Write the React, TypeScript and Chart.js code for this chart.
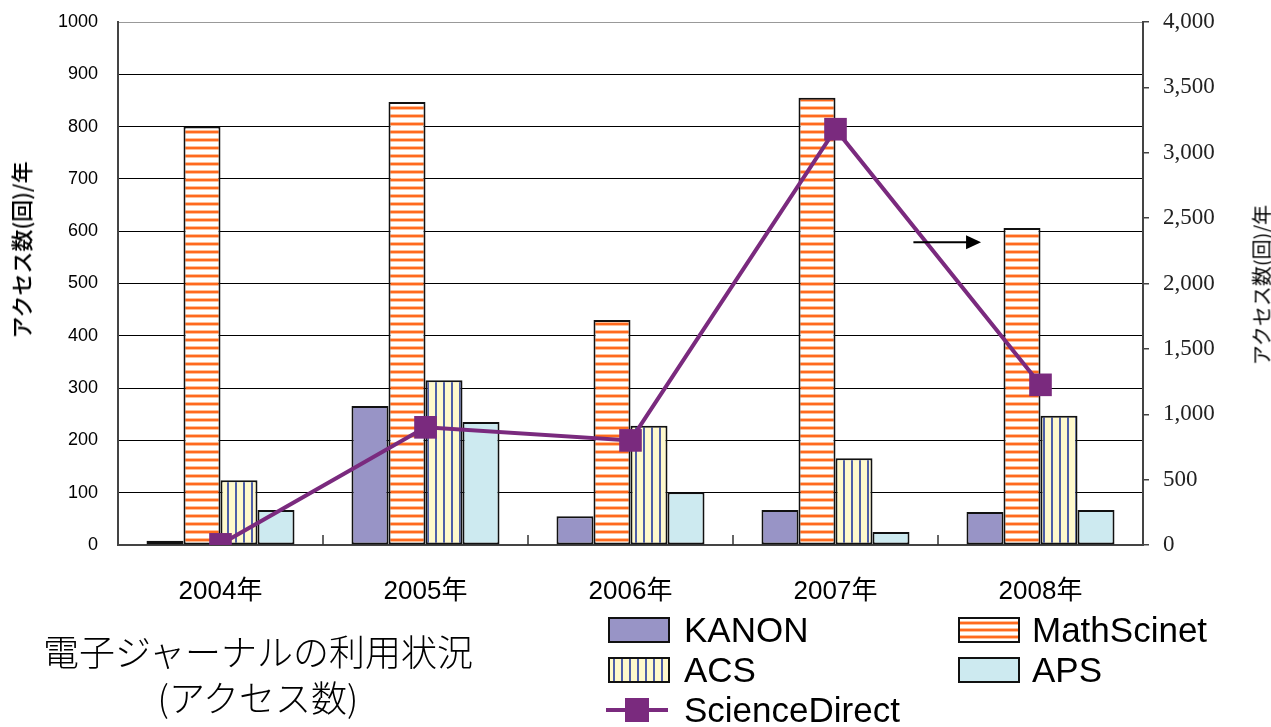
import React, { useEffect, useRef } from 'react';
import { Chart, registerables } from 'chart.js';

Chart.register(...registerables);

// ---- data ----
const YEARS = ['2004年', '2005年', '2006年', '2007年', '2008年'];
const KANON = [8, 266, 55, 67, 63];
const MATHSCINET = [800, 847, 430, 855, 606];
const ACS = [124, 315, 228, 166, 247];
const APS = [67, 235, 101, 25, 67];
const SCIENCE_DIRECT = [5, 900, 800, 3180, 1225];

const LEFT_MAX = 1000;
const LEFT_STEP = 100;
const RIGHT_MAX = 4000;
const RIGHT_STEP = 500;

const SERIES_NAMES = ['KANON', 'MathScinet', 'ACS', 'APS', 'ScienceDirect'];
const AXIS_TITLE = 'アクセス数(回)/年';
const TITLE_LINES = ['電子ジャーナルの利用状況', '(アクセス数)'];

// arrow annotation in data units (category index, left-axis value)
const ARROW = { fromX: 3.38, toX: 3.71, y: 579 };

// ---- styles ----
const W = 1271;
const H = 727;
const KANON_COLOR = '#9894C6';
const APS_COLOR = '#CDEAF0';
const ACS_BG = '#FFF9CC';
const ACS_STRIPE = '#4F5FA8';
const MATH_STRIPE = '#FF6A1F';
const MATH_HALO = '#FFC09A';
const SD_COLOR = '#7A2A7E';
const BAR_BORDER = '#111';

function hPattern(ctx: CanvasRenderingContext2D) {
  const c = document.createElement('canvas');
  c.width = 8;
  c.height = 8;
  const g = c.getContext('2d')!;
  g.fillStyle = '#fff';
  g.fillRect(0, 0, 8, 8);
  g.fillStyle = MATH_HALO;
  g.fillRect(0, 2, 8, 1);
  g.fillRect(0, 5, 8, 1);
  g.fillStyle = MATH_STRIPE;
  g.fillRect(0, 3, 8, 2);
  return ctx.createPattern(c, 'repeat')!;
}

function vPattern(ctx: CanvasRenderingContext2D) {
  const c = document.createElement('canvas');
  c.width = 8;
  c.height = 8;
  const g = c.getContext('2d')!;
  g.fillStyle = ACS_BG;
  g.fillRect(0, 0, 8, 8);
  g.fillStyle = ACS_STRIPE;
  g.fillRect(3, 0, 2, 8);
  return ctx.createPattern(c, 'repeat')!;
}

const extrasPlugin = {
  id: 'extras',
  afterDatasetsDraw(chart: any) {
    const { ctx, scales } = chart;
    const x = scales.x;
    const y = scales.y;
    const bottom = chart.chartArea.bottom;
    ctx.save();
    // inward ticks at category boundaries
    ctx.strokeStyle = '#333';
    ctx.lineWidth = 1.5;
    for (let i = 1; i < YEARS.length; i++) {
      const px = (x.getPixelForValue(i - 1) + x.getPixelForValue(i)) / 2;
      ctx.beginPath();
      ctx.moveTo(px, bottom);
      ctx.lineTo(px, bottom - 10);
      ctx.stroke();
    }
    // arrow
    const x0 = x.getPixelForValue(ARROW.fromX);
    const x1 = x.getPixelForValue(ARROW.toX);
    const py = y.getPixelForValue(ARROW.y);
    ctx.strokeStyle = '#000';
    ctx.fillStyle = '#000';
    ctx.lineWidth = 2;
    ctx.beginPath();
    ctx.moveTo(x0, py);
    ctx.lineTo(x1 - 12, py);
    ctx.stroke();
    ctx.beginPath();
    ctx.moveTo(x1, py);
    ctx.lineTo(x1 - 15, py - 7);
    ctx.lineTo(x1 - 15, py + 7);
    ctx.closePath();
    ctx.fill();
    ctx.restore();
  },
};

const swatchBase: React.CSSProperties = {
  position: 'absolute',
  width: 58,
  height: 22,
  border: '2px solid #111',
};

const legendText: React.CSSProperties = {
  position: 'absolute',
  fontFamily: "'Liberation Sans', Arial, sans-serif",
  fontSize: 35,
  lineHeight: '36px',
  color: '#000',
  whiteSpace: 'nowrap',
};

export default function App() {
  const ref = useRef<HTMLCanvasElement | null>(null);

  useEffect(() => {
    const canvas = ref.current!;
    const ctx = canvas.getContext('2d')!;
    const chart = new Chart(ctx, {
      type: 'bar',
      data: {
        labels: YEARS,
        datasets: [
          {
            type: 'line',
            label: SERIES_NAMES[4],
            data: SCIENCE_DIRECT,
            yAxisID: 'y1',
            borderColor: SD_COLOR,
            backgroundColor: SD_COLOR,
            borderWidth: 4,
            pointStyle: 'rect',
            pointRadius: 16,
            pointBorderWidth: 0,
            pointBackgroundColor: SD_COLOR,
            tension: 0,
            order: 0,
          } as any,
          {
            label: SERIES_NAMES[0],
            data: KANON,
            backgroundColor: KANON_COLOR,
            borderColor: BAR_BORDER,
            borderWidth: 2,
            borderSkipped: false,
            order: 1,
          },
          {
            label: SERIES_NAMES[1],
            data: MATHSCINET,
            backgroundColor: hPattern(ctx),
            borderColor: BAR_BORDER,
            borderWidth: 2,
            borderSkipped: false,
            order: 1,
          },
          {
            label: SERIES_NAMES[2],
            data: ACS,
            backgroundColor: vPattern(ctx),
            borderColor: BAR_BORDER,
            borderWidth: 2,
            borderSkipped: false,
            order: 1,
          },
          {
            label: SERIES_NAMES[3],
            data: APS,
            backgroundColor: APS_COLOR,
            borderColor: BAR_BORDER,
            borderWidth: 2,
            borderSkipped: false,
            order: 1,
          },
        ],
      },
      options: {
        responsive: false,
        animation: false,
        devicePixelRatio: 1,
        layout: { padding: { top: 22, left: 0, right: 0, bottom: 0 } },
        datasets: {
          bar: { categoryPercentage: 0.722, barPercentage: 1.0 },
        },
        plugins: {
          legend: { display: false },
          tooltip: { enabled: false },
          title: { display: false },
        },
        scales: {
          x: {
            type: 'category',
            offset: true,
            afterFit: (s: any) => {
              s.height = H - 545;
              s.paddingLeft = 0;
              s.paddingRight = 0;
            },
            grid: { display: false, drawTicks: false },
            border: { display: true, color: '#444', width: 2 },
            ticks: {
              padding: 31,
              color: '#000',
              font: { family: "'Liberation Sans', 'Noto Sans CJK JP', sans-serif", size: 26 },
            },
          },
          y: {
            position: 'left',
            min: 0,
            max: LEFT_MAX,
            afterFit: (s: any) => {
              s.width = 118;
              s.paddingTop = 0;
              s.paddingBottom = 0;
            },
            grid: {
              drawTicks: false,
              color: (c: any) => (c.tick && c.tick.value === LEFT_MAX ? '#999' : '#000'),
              lineWidth: 1,
            },
            border: { display: true, color: '#444', width: 2 },
            ticks: {
              stepSize: LEFT_STEP,
              padding: 20,
              color: '#000',
              font: { family: "'Liberation Sans', Arial, sans-serif", size: 18 },
              callback: (v: any) => String(v),
            },
          },
          y1: {
            position: 'right',
            min: 0,
            max: RIGHT_MAX,
            afterFit: (s: any) => {
              s.width = W - 1143;
              s.paddingTop = 0;
              s.paddingBottom = 0;
            },
            grid: {
              drawOnChartArea: false,
              drawTicks: true,
              tickLength: 6,
              color: '#444',
              lineWidth: 1.5,
            },
            border: { display: true, color: '#444', width: 2 },
            ticks: {
              stepSize: RIGHT_STEP,
              padding: 14,
              color: '#222',
              font: { family: "'Liberation Serif', 'DejaVu Serif', serif", size: 23 },
              callback: (v: any) => Number(v).toLocaleString('en-US'),
            },
          },
        },
      },
      plugins: [extrasPlugin],
    });
    return () => chart.destroy();
  }, []);

  const mathSwatch: React.CSSProperties = {
    ...swatchBase,
    background: `repeating-linear-gradient(to bottom, #fff 0px, #fff 2px, ${MATH_HALO} 2px, ${MATH_HALO} 3px, ${MATH_STRIPE} 3px, ${MATH_STRIPE} 5px, ${MATH_HALO} 5px, ${MATH_HALO} 6px, #fff 6px, #fff 7px)`,
  };
  const acsSwatch: React.CSSProperties = {
    ...swatchBase,
    background: `repeating-linear-gradient(to right, ${ACS_BG} 0px, ${ACS_BG} 3px, ${ACS_STRIPE} 3px, ${ACS_STRIPE} 5px, ${ACS_BG} 5px, ${ACS_BG} 8px)`,
  };

  return (
    <div style={{ position: 'absolute', left: 0, top: 0, width: W, height: H, background: '#fff', overflow: 'hidden' }}>
      <canvas ref={ref} width={W} height={H} style={{ position: 'absolute', left: 0, top: 0, width: W, height: H }} />
      {/* axis titles */}
      <div
        style={{
          position: 'absolute',
          left: 20,
          top: 250,
          transform: 'translate(-50%, -50%) rotate(-90deg)',
          fontFamily: "'Noto Sans CJK JP', sans-serif",
          fontWeight: 500,
          fontSize: 22,
          whiteSpace: 'nowrap',
          color: '#000',
        }}
      >
        {AXIS_TITLE}
      </div>
      <div
        style={{
          position: 'absolute',
          left: 1261,
          top: 285,
          transform: 'translate(-50%, -50%) rotate(-90deg)',
          fontFamily: "'Noto Sans CJK JP', sans-serif",
          fontWeight: 400,
          fontSize: 20,
          whiteSpace: 'nowrap',
          color: '#000',
        }}
      >
        {AXIS_TITLE}
      </div>
      {/* chart title */}
      <div
        style={{
          position: 'absolute',
          left: 258,
          top: 627,
          transform: 'translateX(-50%)',
          fontFamily: "'Noto Sans CJK JP', sans-serif",
          fontWeight: 300,
          fontSize: 36,
          lineHeight: '46px',
          textAlign: 'center',
          whiteSpace: 'nowrap',
          color: '#000',
        }}
      >
        <div>{TITLE_LINES[0]}</div>
        <div>{TITLE_LINES[1]}</div>
      </div>
      {/* legend */}
      <div style={{ ...swatchBase, left: 608, top: 617, background: KANON_COLOR }} />
      <div style={{ ...legendText, left: 684, top: 612 }}>{SERIES_NAMES[0]}</div>
      <div style={{ ...mathSwatch, left: 958, top: 617 }} />
      <div style={{ ...legendText, left: 1032, top: 612 }}>{SERIES_NAMES[1]}</div>
      <div style={{ ...acsSwatch, left: 608, top: 657 }} />
      <div style={{ ...legendText, left: 684, top: 652 }}>{SERIES_NAMES[2]}</div>
      <div style={{ ...swatchBase, left: 958, top: 657, background: APS_COLOR }} />
      <div style={{ ...legendText, left: 1032, top: 652 }}>{SERIES_NAMES[3]}</div>
      <div style={{ position: 'absolute', left: 606, top: 708, width: 62, height: 4, background: SD_COLOR }} />
      <div style={{ position: 'absolute', left: 625, top: 698, width: 24, height: 24, background: SD_COLOR }} />
      <div style={{ ...legendText, left: 684, top: 692 }}>{SERIES_NAMES[4]}</div>
    </div>
  );
}
